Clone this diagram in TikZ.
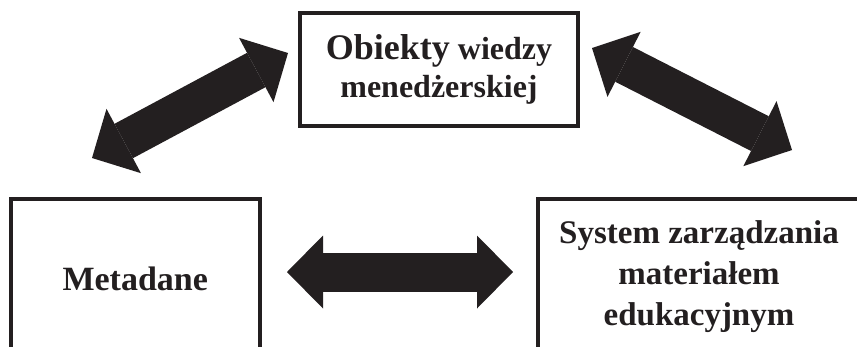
\documentclass[tikz,border=0pt]{standalone}
\usepackage{fontspec}
\setmainfont{Liberation Serif}
\usetikzlibrary{arrows.meta}
\definecolor{ink}{HTML}{231F20}
\tikzset{
  box/.style={draw=ink, line width=4pt, text=ink, align=center,
    font=\bfseries\fontsize{33}{41}\selectfont},
  bigarrow/.style={draw=ink, line width=39pt,
    {Triangle[length=36pt,width=73pt,line width=0pt]}-{Triangle[length=36pt,width=73pt,line width=0pt]}}
}

\begin{document}
\begin{tikzpicture}[x=1pt,y=-1pt]
        \useasboundingbox (0,0) rectangle (857,346);
        \clip (0,0) rectangle (857,346);
        \node[box, minimum width=278pt, minimum height=112.5pt, font=\bfseries\fontsize{32}{38}\selectfont] (obj) at (439,69.25) {{\fontsize{36}{38}\selectfont Obiekty} wiedzy\\menedżerskiej};
        \node[box, minimum width=249.5pt, minimum height=161pt, font=\bfseries\fontsize{34}{41}\selectfont] (meta) at (135.25,279) {Metadane};
        \node[box, minimum width=322pt, minimum height=157pt] (sys) at (699,277) {System zarządzania\\materiałem\\edukacyjnym};
        \coordinate (ml) at (92,158);
        \coordinate (ol) at (288,53);
        \coordinate (or) at (592,48);
        \coordinate (sr) at (792,150);
        \coordinate (hl) at (287,272);
        \coordinate (hr) at (513,272);
        \draw[bigarrow] (ml) -- (ol);
        \draw[bigarrow] (or) -- (sr);
        \draw[bigarrow] (hl) -- (hr);
    \end{tikzpicture}
\end{document}
